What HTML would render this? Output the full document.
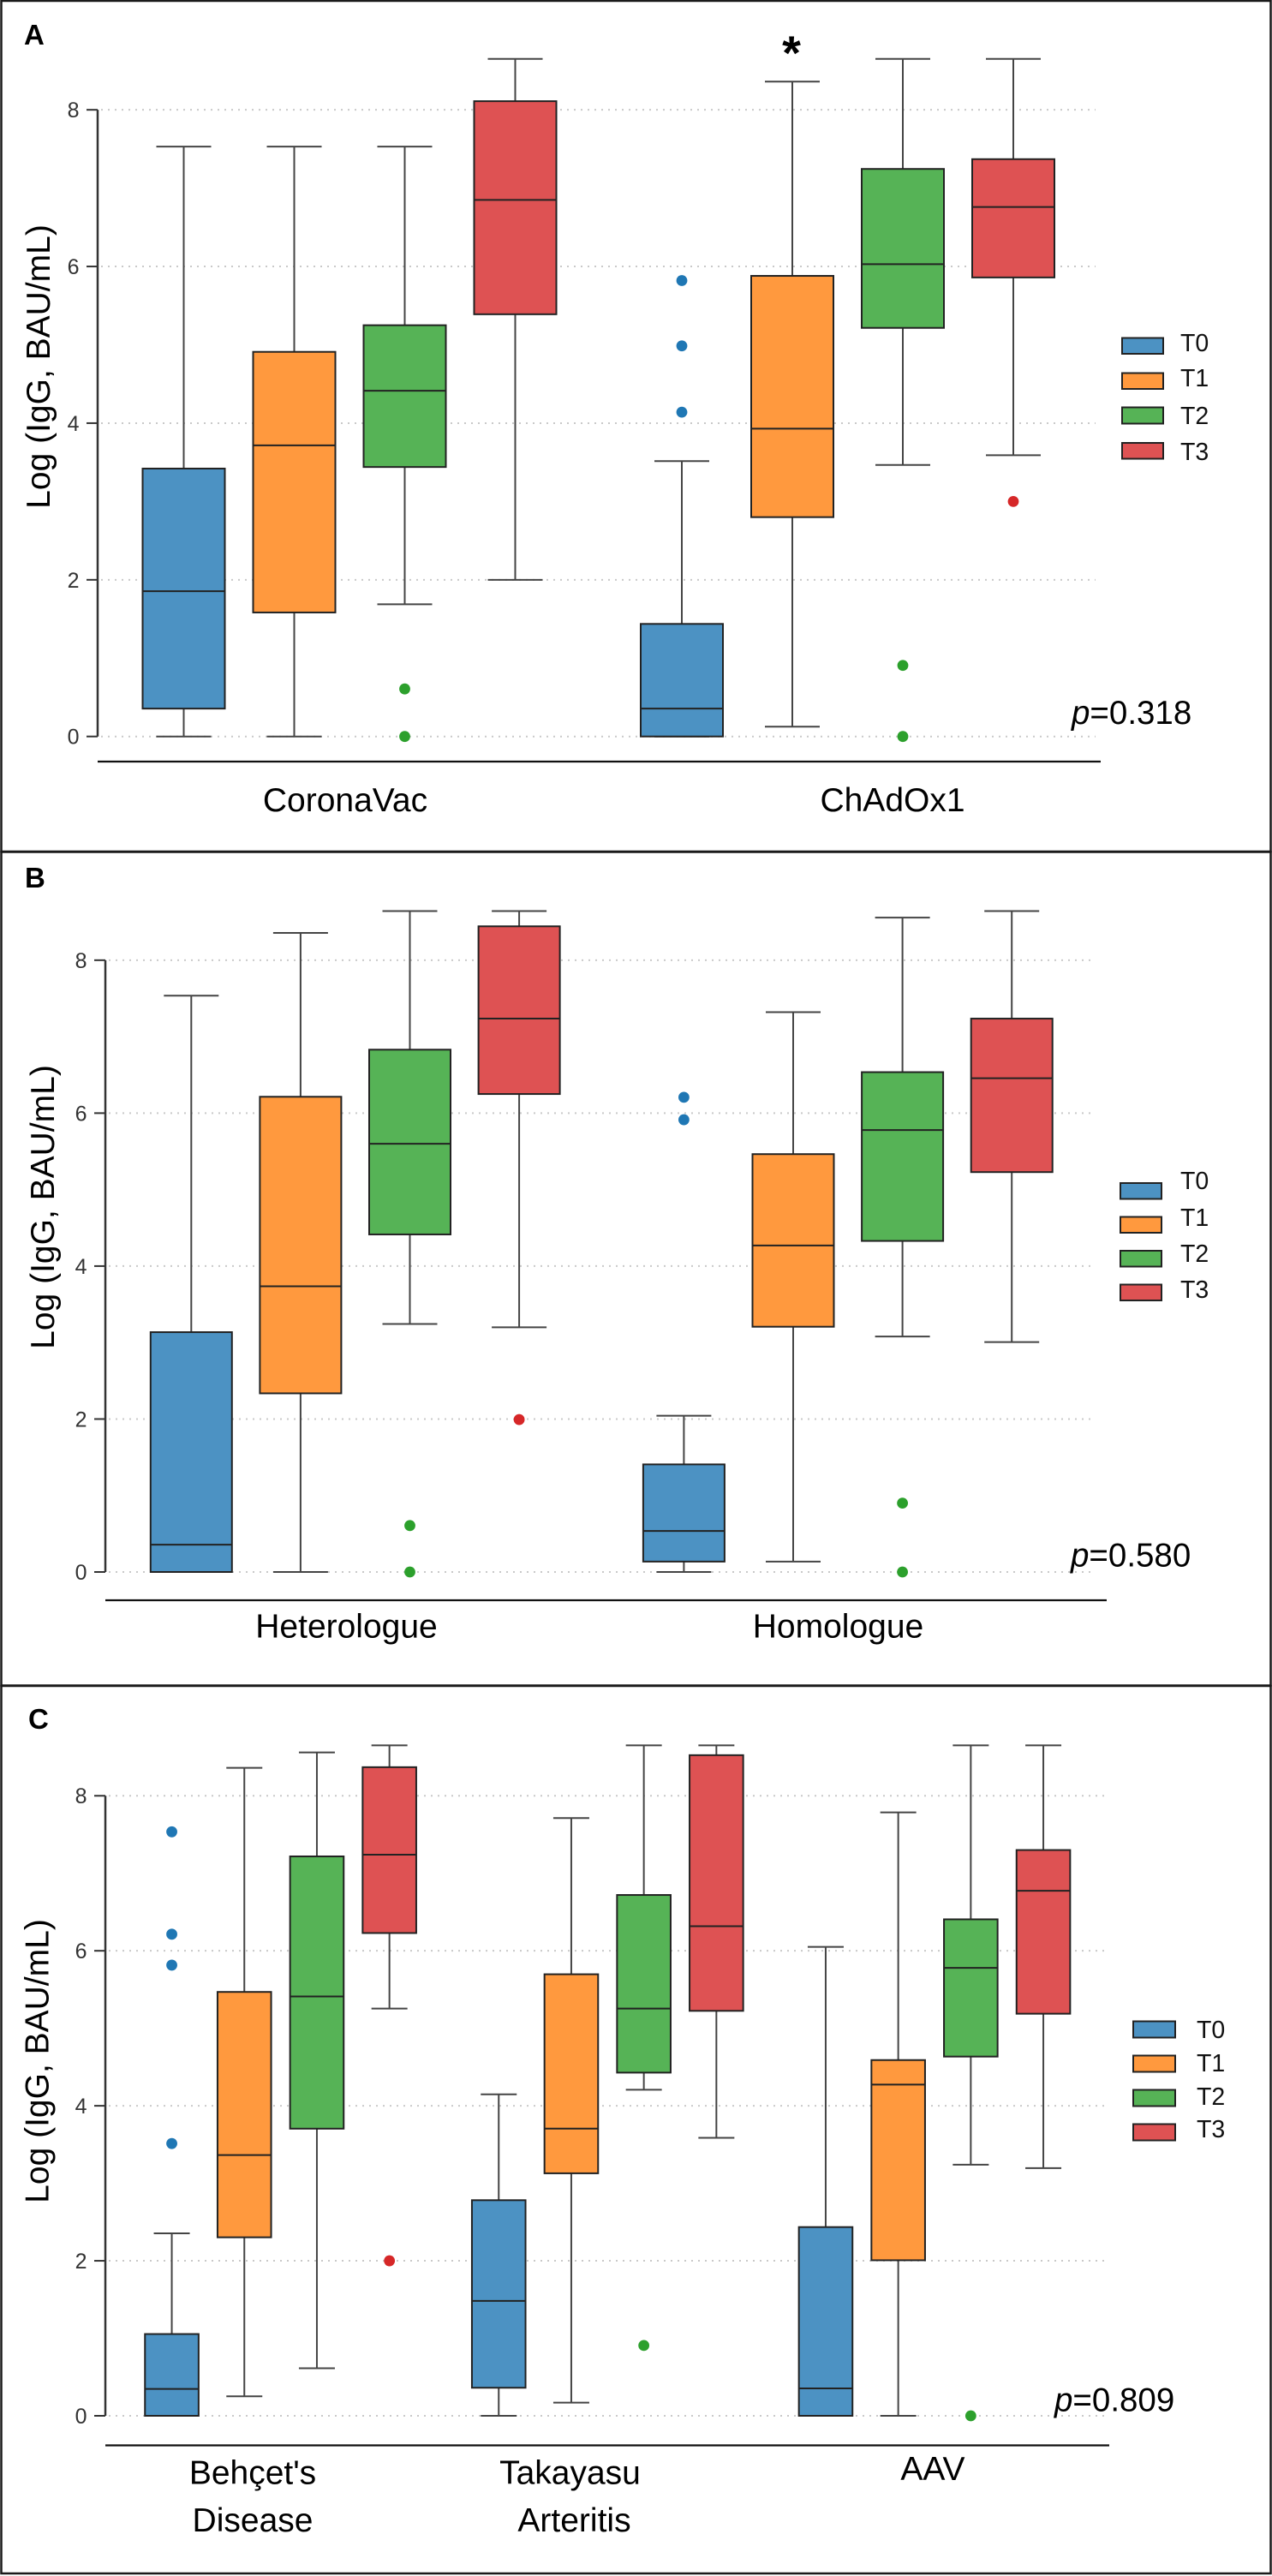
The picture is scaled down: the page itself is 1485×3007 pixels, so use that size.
<!DOCTYPE html>
<html lang="en">
<head>
<meta charset="utf-8">
<title>Log IgG box plots by vaccine, schedule and disease</title>
<style>
html,body{margin:0;padding:0;background:#fff}
svg{display:block}
text{font-family:"Liberation Sans",Arial,sans-serif}
.cat{font-size:39px;fill:#000;text-anchor:middle}
.ytitle{font-size:39px;fill:#000;text-anchor:middle}
.letter{font-size:33px;font-weight:bold;fill:#000}
.pval{font-size:38.5px;fill:#000}
.leg{font-size:28.5px;fill:#111}
.tick{font-size:25px;fill:#333;text-anchor:end}
</style>
</head>
<body>
<svg xmlns="http://www.w3.org/2000/svg" width="1485" height="3007" viewBox="0 0 1485 3007">
<rect x="0" y="0" width="1485" height="3007" fill="#fff"/>

<g>
  <g id="marks-a"></g>
  <text class="letter" x="28" y="52">A</text>
  <text class="ytitle" transform="translate(58 428) rotate(-90)">Log (IgG, BAU/mL)</text>
  <text x="924" y="81" font-size="56" font-weight="bold" text-anchor="middle">*</text>
  <text class="pval" x="1251" y="845"><tspan font-style="italic">p</tspan>=0.318</text>
  <g>
    <rect x="1310" y="394.5" width="48" height="18.5" fill="#4C92C3" stroke="#222" stroke-width="2"/>
    <rect x="1310" y="435.5" width="48" height="18.5" fill="#FF993E" stroke="#222" stroke-width="2"/>
    <rect x="1310" y="475.5" width="48" height="19" fill="#56B356" stroke="#222" stroke-width="2"/>
    <rect x="1310" y="517" width="48" height="18.5" fill="#DE5253" stroke="#222" stroke-width="2"/>
    <text class="leg" x="1378" y="410">T0</text>
    <text class="leg" x="1378" y="451">T1</text>
    <text class="leg" x="1378" y="495">T2</text>
    <text class="leg" x="1378" y="537">T3</text>
  </g>
</g>

<g>
  <g id="marks-b"></g>
  <text class="letter" x="29" y="1036">B</text>
  <text class="ytitle" transform="translate(63 1409) rotate(-90)">Log (IgG, BAU/mL)</text>
  <text class="pval" x="1250" y="1828.5"><tspan font-style="italic">p</tspan>=0.580</text>
  <g>
    <rect x="1308" y="1381" width="48" height="18.5" fill="#4C92C3" stroke="#222" stroke-width="2"/>
    <rect x="1308" y="1420.5" width="48" height="18.5" fill="#FF993E" stroke="#222" stroke-width="2"/>
    <rect x="1308" y="1460" width="48" height="18.5" fill="#56B356" stroke="#222" stroke-width="2"/>
    <rect x="1308" y="1499.5" width="48" height="18.5" fill="#DE5253" stroke="#222" stroke-width="2"/>
    <text class="leg" x="1378" y="1388">T0</text>
    <text class="leg" x="1378" y="1431">T1</text>
    <text class="leg" x="1378" y="1473">T2</text>
    <text class="leg" x="1378" y="1515">T3</text>
  </g>
</g>

<g>
  <g id="marks-c"></g>
  <text class="letter" x="33" y="2018">C</text>
  <text class="ytitle" transform="translate(56.5 2406) rotate(-90)">Log (IgG, BAU/mL)</text>
  <text class="pval" x="1231" y="2814.5"><tspan font-style="italic">p</tspan>=0.809</text>
  <g>
    <rect x="1323" y="2359.5" width="49" height="19" fill="#4C92C3" stroke="#222" stroke-width="2"/>
    <rect x="1323" y="2399.5" width="49" height="19" fill="#FF993E" stroke="#222" stroke-width="2"/>
    <rect x="1323" y="2439.5" width="49" height="19" fill="#56B356" stroke="#222" stroke-width="2"/>
    <rect x="1323" y="2479.5" width="49" height="19" fill="#DE5253" stroke="#222" stroke-width="2"/>
    <text class="leg" x="1397" y="2379">T0</text>
    <text class="leg" x="1397" y="2418">T1</text>
    <text class="leg" x="1397" y="2457">T2</text>
    <text class="leg" x="1397" y="2495">T3</text>
  </g>
</g>

<g fill="none" stroke="#1a1a1a" stroke-width="2.5">
  <rect x="1.5" y="1" width="1482" height="993"/>
  <rect x="1.5" y="994.5" width="1482" height="973"/>
  <rect x="1.5" y="1968" width="1482" height="1036"/>
</g>
</svg>

<script>
// Shared axis data
const seriesNames = ['T0', 'T1', 'T2', 'T3'];
const yTickValues = [0, 2, 4, 6, 8];

// Panel A — vaccine type (rows: groups, columns: T0..T3)
const aCategories = ['CoronaVac', 'ChAdOx1'];
const aHigh = [[7.53, 7.53, 7.53, 8.65], [3.515, 8.36, 8.65, 8.65]];
const aQ3 = [[3.42, 4.91, 5.25, 8.11], [1.437, 5.88, 7.245, 7.37]];
const aMedian = [[1.855, 3.717, 4.414, 6.85], [0.356, 3.93, 6.03, 6.76]];
const aQ1 = [[0.356, 1.583, 3.44, 5.39], [0, 2.80, 5.216, 5.86]];
const aLow = [[0, 0, 1.688, 2.0], [0, 0.125, 3.466, 3.59]];
const aOutliers = [[[], [], [0.607, 0], []], [[5.82, 4.986, 4.14], [], [0.907, 0], [3.0]]];

// Panel B — vaccination schedule
const bCategories = ['Heterologue', 'Homologue'];
const bHigh = [[7.536, 8.357, 8.643, 8.643], [2.043, 7.32, 8.557, 8.643]];
const bQ3 = [[3.136, 6.214, 6.83, 8.443], [1.407, 5.464, 6.536, 7.236]];
const bMedian = [[0.357, 3.736, 5.6, 7.236], [0.536, 4.27, 5.779, 6.457]];
const bQ1 = [[0, 2.336, 4.414, 6.25], [0.136, 3.207, 4.329, 5.229]];
const bLow = [[0, 0, 3.243, 3.2], [0, 0.136, 3.079, 3.007]];
const bOutliers = [[[], [], [0.607, 0], [1.993]], [[6.207, 5.914], [], [0.9, 0], []]];

// Panel C — disease
const cCategories = [["Behçet's", 'Disease'], ['Takayasu', 'Arteritis'], ['AAV']];
const cHigh = [[2.354, 8.36, 8.56, 8.65], [4.148, 7.712, 8.65, 8.65], [6.05, 7.786, 8.65, 8.65]];
const cQ3 = [[1.055, 5.469, 7.218, 8.369], [2.782, 5.697, 6.72, 8.524], [2.435, 4.59, 6.406, 7.3]];
const cMedian = [[0.347, 3.365, 5.41, 7.24], [1.483, 3.705, 5.255, 6.317], [0.354, 4.273, 5.779, 6.775]];
const cQ1 = [[0, 2.303, 3.705, 6.229], [0.362, 3.129, 4.428, 5.225], [0, 2.007, 4.635, 5.188]];
const cLow = [[0, 0.251, 0.613, 5.255], [0, 0.17, 4.207, 3.587], [0, 0, 3.24, 3.196]];
const cOutliers = [[[7.535, 6.214, 5.815, 3.513], [], [], [2.0]], [[], [], [0.908], []], [[], [], [0], []]];

const fillColors = ['#4C92C3', '#FF993E', '#56B356', '#DE5253'];
const pointColors = ['#1F77B4', '#FF7F0E', '#2CA02C', '#D62728'];
const NS = 'http://www.w3.org/2000/svg';

function make(parent, tag, attrs) {
  const el = document.createElementNS(NS, tag);
  for (const k in attrs) el.setAttribute(k, attrs[k]);
  parent.appendChild(el);
  return el;
}

function drawPanel(layout, cats, high, q3, median, q1, low, outliers) {
  const root = document.getElementById(layout.id);
  const yScale = v => layout.y0 - v * layout.unit;
  const xScale = (g, s) => layout.firstCenter + g * layout.groupStep + (s - 1.5) * layout.seriesStep;

  yTickValues.forEach(t => {
    const grid = make(root, 'line', {x1: layout.axisX + 4, x2: layout.gridEnd, y1: yScale(t), y2: yScale(t), stroke: '#c9c9c9', 'stroke-width': 2, 'stroke-dasharray': '2 6'});
    
    
    const tick = make(root, 'line', {x1: layout.axisX - 13, x2: layout.axisX, y1: yScale(t), y2: yScale(t), stroke: '#333', 'stroke-width': 2});
    
    
    const label = make(root, 'text', {class: 'tick', x: layout.axisX - 21.5, y: yScale(t) + 9});
    label.textContent = t;
    
    
  });

  const yAxis = make(root, 'line', {x1: layout.axisX, x2: layout.axisX, y1: yScale(8), y2: yScale(0), stroke: '#333', 'stroke-width': 2.5});
  
  
  const xAxis = make(root, 'line', {x1: layout.axisX, x2: layout.baseEnd, y1: layout.baseY, y2: layout.baseY, stroke: '#111', 'stroke-width': 2.2});
  
  

  cats.forEach((name, g) => {
    const lines = Array.isArray(name) ? name : [name];
    lines.forEach((line, i) => {
      const label = make(root, 'text', {class: 'cat', x: layout.labelX[g][i], y: layout.labelY[g] + i * layout.labelLead});
      label.textContent = line;
      
      
    });

    seriesNames.forEach((sName, s) => {
      const cx = xScale(g, s);
      const group = make(root, 'g', {});
      
      

      const upper = make(group, 'line', {x1: cx, x2: cx, y1: yScale(high[g][s]), y2: yScale(q3[g][s]), stroke: '#444', 'stroke-width': 2});
      
      
      const lower = make(group, 'line', {x1: cx, x2: cx, y1: yScale(q1[g][s]), y2: yScale(low[g][s]), stroke: '#444', 'stroke-width': 2});
      
      
      const capTop = make(group, 'line', {x1: cx - layout.capW / 2, x2: cx + layout.capW / 2, y1: yScale(high[g][s]), y2: yScale(high[g][s]), stroke: '#444', 'stroke-width': 2});
      
      
      const capLow = make(group, 'line', {x1: cx - layout.capW / 2, x2: cx + layout.capW / 2, y1: yScale(low[g][s]), y2: yScale(low[g][s]), stroke: '#444', 'stroke-width': 2});
      
      

      const box = make(group, 'rect', {x: cx - layout.boxW / 2, y: yScale(q3[g][s]), width: layout.boxW, height: yScale(q1[g][s]) - yScale(q3[g][s]), fill: fillColors[s], stroke: '#222', 'stroke-width': 2});
      
      
      const med = make(group, 'line', {x1: cx - layout.boxW / 2, x2: cx + layout.boxW / 2, y1: yScale(median[g][s]), y2: yScale(median[g][s]), stroke: '#222', 'stroke-width': 2});
      
      

      outliers[g][s].forEach(v => {
        const dot = make(group, 'circle', {cx: cx, cy: yScale(v), r: 6.4, fill: pointColors[s]});
        
        
      });
    });
  });
}

drawPanel({id: 'marks-a', y0: 859.7, unit: 91.44, axisX: 114, gridEnd: 1279, baseY: 889, baseEnd: 1285, firstCenter: 408, groupStep: 581.5, seriesStep: 129, boxW: 96, capW: 64, labelX: [[403], [1042]], labelY: [947, 947], labelLead: 0},
  aCategories, aHigh, aQ3, aMedian, aQ1, aLow, aOutliers);
drawPanel({id: 'marks-b', y0: 1835, unit: 89.27, axisX: 123, gridEnd: 1278, baseY: 1868, baseEnd: 1292, firstCenter: 414.7, groupStep: 575.1, seriesStep: 127.6, boxW: 95, capW: 64, labelX: [[404.5], [978.5]], labelY: [1911.5, 1911.5], labelLead: 0},
  bCategories, bHigh, bQ3, bMedian, bQ1, bLow, bOutliers);
drawPanel({id: 'marks-c', y0: 2820, unit: 90.47, axisX: 123, gridEnd: 1292, baseY: 2854.5, baseEnd: 1295, firstCenter: 327.6, groupStep: 381.7, seriesStep: 84.7, boxW: 62.6, capW: 42, labelX: [[295, 295], [665.5, 670.5], [1089]], labelY: [2899.5, 2899.5, 2895], labelLead: 55.5},
  cCategories, cHigh, cQ3, cMedian, cQ1, cLow, cOutliers);
</script>
</body>
</html>
